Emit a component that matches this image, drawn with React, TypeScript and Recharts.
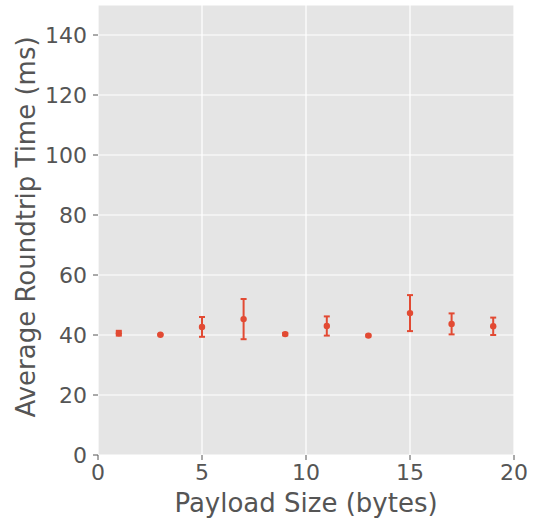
import {
  ComposedChart,
  Scatter,
  ErrorBar,
  XAxis,
  YAxis,
  CartesianGrid,
} from "recharts";

const payloadSizes = [1, 3, 5, 7, 9, 11, 13, 15, 17, 19];
const meanRtt = [40.6, 40.1, 42.7, 45.3, 40.3, 43.0, 39.8, 47.3, 43.7, 42.9];
const rttError = [0.8, 0.2, 3.3, 6.7, 0.4, 3.2, 0.3, 6.0, 3.5, 2.9];
const xTicks = [0, 5, 10, 15, 20];
const yTicks = [0, 20, 40, 60, 80, 100, 120, 140];

const RED = "#E24A33";
const TEXT = "#555555";
const FONT = "DejaVu Sans";

const rows = payloadSizes.map((size, i) => ({
  size,
  rtt: meanRtt[i],
  err: rttError[i],
}));

const Dot = (props: any) => (
  <circle cx={props.cx} cy={props.cy} r={3.2} fill={RED} />
);

const YLabel = ({ viewBox }: any) => {
  const cx = viewBox.x + 26;
  const cy = viewBox.y + viewBox.height / 2 - 3;
  return (
    <text
      x={cx}
      y={cy}
      transform={`rotate(-90 ${cx} ${cy})`}
      textAnchor="middle"
      dominantBaseline="central"
      fill={TEXT}
      fontSize={26}
      fontFamily={FONT}
    >
      Average Roundtrip Time (ms)
    </text>
  );
};

const XLabel = ({ viewBox }: any) => (
  <text
    x={viewBox.x + viewBox.width / 2}
    y={viewBox.y + 48}
    textAnchor="middle"
    dominantBaseline="central"
    fill={TEXT}
    fontSize={26}
    fontFamily={FONT}
  >
    Payload Size (bytes)
  </text>
);

export default function App() {
  const tickStyle = { fill: TEXT, fontSize: 22, fontFamily: FONT };
  return (
    <div style={{ position: "absolute", left: 0, top: 0, background: "#fff" }}>
      <ComposedChart
        width={539}
        height={524}
        data={rows}
        margin={{ top: 5, right: 25, bottom: 0, left: 0 }}
      >
        <CartesianGrid fill="#E5E5E5" stroke="#FFFFFF" strokeWidth={1.2} />
        <XAxis
          dataKey="size"
          type="number"
          domain={[0, 20]}
          ticks={xTicks}
          height={69}
          axisLine={false}
          tickLine={{ stroke: TEXT }}
          tickSize={5}
          tickMargin={4}
          tick={tickStyle}
          label={<XLabel />}
        />
        <YAxis
          dataKey="rtt"
          type="number"
          domain={[0, 150]}
          ticks={yTicks}
          width={98}
          axisLine={false}
          tickLine={{ stroke: TEXT }}
          tickSize={5}
          tickMargin={6}
          tick={tickStyle}
          label={<YLabel />}
        />
        <Scatter dataKey="rtt" shape={<Dot />} isAnimationActive={false}>
          <ErrorBar
            dataKey="err"
            direction="y"
            width={3}
            stroke={RED}
            strokeWidth={2}
            isAnimationActive={false}
          />
        </Scatter>
      </ComposedChart>
    </div>
  );
}
